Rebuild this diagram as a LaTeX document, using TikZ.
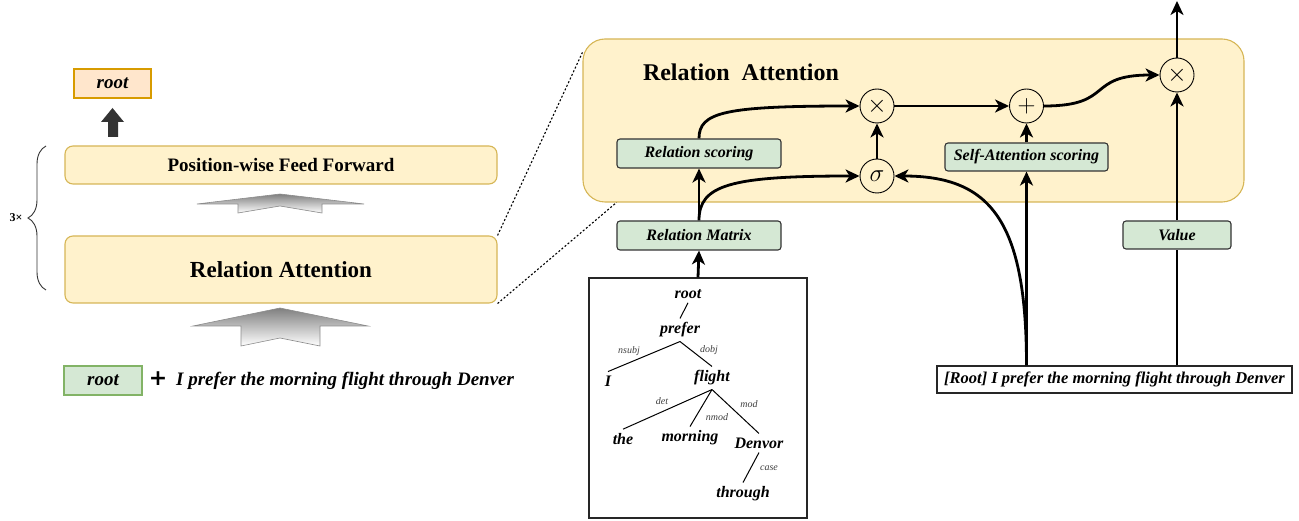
\documentclass[tikz,border=0pt]{standalone}
\usepackage{fontspec}
\setmainfont{Liberation Serif}
\newfontfamily\plusfont{DejaVu Sans}
\usetikzlibrary{positioning,arrows.meta,calc,decorations.pathreplacing}
\definecolor{ylwfill}{HTML}{FFF2CC}
\definecolor{ylwline}{HTML}{D6B656}
\definecolor{grnfill}{HTML}{D5E8D4}
\definecolor{grnline}{HTML}{82B366}
\definecolor{orgfill}{HTML}{FFE6CC}
\definecolor{orgline}{HTML}{D79B00}
\tikzset{%
    every block/.style={
        rounded corners=8pt,
        draw=ylwline,
        fill=ylwfill,
        line width=1.1pt,
        minimum width=432pt
    },
    score box/.style={
        draw=black!80,
        fill=grnfill,
        rounded corners=3pt,
        line width=1.1pt,
        minimum height=29pt,
        font=\fontsize{16}{18}\selectfont\bfseries\itshape
    },
    op/.style={
        circle,
        draw,
        line width=0.9pt,
        minimum size=34pt,
        inner sep=0pt,
        font=\fontsize{30}{30}\selectfont
    },
    word/.style={
        inner sep=4pt,
        font=\fontsize{16}{18}\selectfont\bfseries\itshape
    },
    dep/.style={
        inner sep=0pt,
        text=black!75,
        font=\fontsize{10}{12}\selectfont\itshape
    },
    gray arrow/.style={
        top color=black!50,
        bottom color=white,
        draw=black!45,
        line width=0.6pt
    },
    zoom line/.style={
        line width=1.1pt,
        dash pattern=on 2pt off 2pt
    },
    flow/.style={
        line width=2.8pt,
        -{Stealth[length=14pt,width=13pt,inset=4pt]}
    },
}
\begin{document}
\begin{tikzpicture}[x=1pt, y=-1pt]

        \useasboundingbox (0,0) rectangle (1299,521);

        % left: encoder stack
        \node [draw=orgline, fill=orgfill, line width=1.1pt, minimum width=77pt, minimum height=29pt,
               font=\fontsize{19}{21}\selectfont\bfseries\itshape] (out) at (112.5,83.5) {root};
        \fill [black!80] (108,137) -- (108,122) -- (101,122) -- (112.5,108) -- (124,122) -- (118,122) -- (118,137) -- cycle;

        \node [every block, minimum height=38pt, font=\fontsize{19}{21}\selectfont\bfseries] (ffn) at (281,165) {Position-wise Feed Forward};
        \node [every block, minimum height=67pt, font=\fontsize{23}{25}\selectfont\bfseries] (ra) at (281,269.5) {Relation Attention};

        \shadedraw [gray arrow] (197,204) -- (280,194) -- (364,204) -- (322,204) -- (322,213) -- (280,206) -- (238,213) -- (238,204) -- cycle;
        \shadedraw [gray arrow] (193,326) -- (280,308) -- (368,326) -- (320,326) -- (320,346) -- (280,338) -- (241,346) -- (241,326) -- cycle;

        \draw [decorate, decoration={brace, amplitude=18pt}, line width=0.9pt, black!80] (46,290) -- (46,146);
        \node [font=\fontsize{12}{14}\selectfont\bfseries] (times) at (16,218) {3×};

        \node [draw=grnline, fill=grnfill, line width=1.1pt, minimum width=78pt, minimum height=29pt,
               font=\fontsize{19}{21}\selectfont\bfseries\itshape] (rootin) at (103,380.5) {root};
        \node [font=\plusfont\fontsize{22}{24}\selectfont\bfseries] (plus) at (158,379) {+};
        \node [anchor=west, inner sep=0pt, font=\fontsize{19}{21}\selectfont\bfseries\itshape] (sent) at (176,381)
              {I prefer the morning flight through Denver};

        % right: relation attention
        \node [draw=ylwline, fill=ylwfill, line width=1.1pt, rounded corners=22pt,
               minimum width=661pt, minimum height=163pt] (panel) at (913.5,120.5) {};
        \node [font=\fontsize{24}{26}\selectfont\bfseries] (title) at (741,72) {Relation\enspace Attention};

        \draw [zoom line] (ra.north east) -- ([yshift=-14pt]panel.north west);
        \draw [zoom line] (ra.south east) -- ([xshift=34pt]panel.south west);

        \node [score box, minimum width=164pt] (rscore) at (699,153.5) {Relation scoring};
        \node [score box, minimum width=164pt] (rmatrix) at (699,235.5) {Relation Matrix};
        \node [score box, minimum width=163pt, minimum height=28pt] (sascore) at (1026.5,157) {Self-Attention scoring};
        \node [score box, minimum width=108pt, minimum height=28pt] (value) at (1177,235) {Value};

        \node [op] (mul1) at (877,106) {$\times$};
        \node [op] (add) at (1026.5,106) {$+$};
        \node [op, font=\fontsize{26}{26}\selectfont] (sig) at (877,176) {$\sigma$};
        \node [op] (mul2) at (1177,75) {$\times$};

        \node [draw=black!85, line width=1.1pt, minimum width=355pt, minimum height=27pt, inner sep=0pt,
               font=\fontsize{16.5}{18}\selectfont\bfseries\itshape] (input) at (1114.5,379.5)
              {[Root] I prefer the morning flight through Denver};
        \node [draw=black!85, line width=1.1pt, minimum width=218pt, minimum height=240pt] (tree) at (698,398) {};

        \foreach \n/\x/\y/\w in {root/688/294/root, prefer/680/330/prefer, i/608/381/I, flight/712/378/flight,
                                 the/623/439/the, morning/690/438/morning, denvor/759/443/Denvor, through/743/494/through}
            \node [word] (t-\n) at (\x,\y) {\w};

        \foreach \a/\b in {root/prefer, prefer/i, prefer/flight, flight/the, flight/morning, flight/denvor, denvor/through}
            \draw [line width=1pt] (t-\a.south) -- (t-\b.north);

        \foreach \n/\x/\y in {nsubj/629/351, dobj/709/350, det/662/401, nmod/717/417, mod/749/404, case/769/468}
            \node [dep] (d-\n) at (\x,\y) {\n};

        \draw [flow] (tree.north) -- (rmatrix.south);
        \draw [flow] (rmatrix.north) -- (rscore.south);
        \draw [flow] (rmatrix.north) .. controls (699,185) and (730,176) .. (sig.west);
        \draw [flow] (rscore.north) .. controls (699,112) and (725,106) .. (mul1.west);
        \draw [flow] (sig.north) -- (mul1.south);
        \draw [flow] (mul1.east) -- (add.west);
        \draw [flow] (add.east) .. controls (1115,106) and (1085,75) .. (mul2.west);
        \draw [flow] (input.north -| sascore.south) -- (sascore.south);
        \draw [flow] (sascore.north) -- (add.south);
        \draw [flow] (input.north -| sascore.south) .. controls (1026.5,220) and (990,176) .. (sig.east);
        \draw [line width=2.8pt] (input.north -| value.south) -- (value.south);
        \draw [flow] (value.north) -- (mul2.south);
        \coordinate (top) at (1177,1);
        \draw [flow] (mul2.north) -- (top);

\end{tikzpicture}
\end{document}
